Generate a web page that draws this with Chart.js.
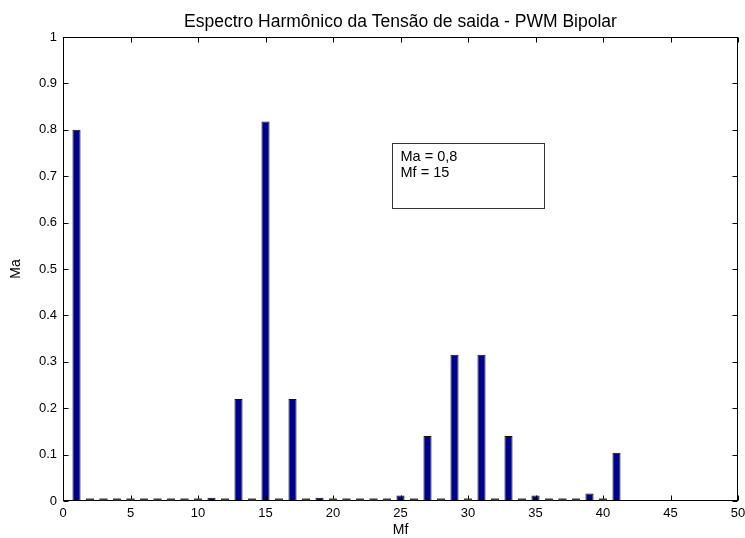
<!DOCTYPE html>
<html>
<head>
<meta charset="utf-8">
<script src="https://cdn.jsdelivr.net/npm/chart.js@4/dist/chart.umd.min.js"></script>
<style>
  html, body { margin: 0; padding: 0; background: #fff; }
  #wrap { width: 745px; height: 538px; }
</style>
</head>
<body>
<div id="wrap"><canvas id="spectrum" width="745" height="538"></canvas></div>
<script>
// ordem dos harmônicos (1..41) e amplitude de cada um
const harmonics = [1, 2, 3, 4, 5, 6, 7, 8, 9, 10, 11, 12, 13, 14, 15, 16, 17, 18, 19, 20,
  21, 22, 23, 24, 25, 26, 27, 28, 29, 30, 31, 32, 33, 34, 35, 36, 37, 38, 39, 40, 41];
const amplitudes = [0.80, 0, 0, 0, 0, 0, 0, 0, 0, 0, 0.007, 0, 0.22, 0, 0.818, 0, 0.22, 0, 0.007, 0,
  0, 0, 0, 0, 0.012, 0, 0.14, 0, 0.315, 0, 0.315, 0, 0.14, 0, 0.012, 0, 0, 0, 0.016, 0, 0.104];
const xTicks = [0, 5, 10, 15, 20, 25, 30, 35, 40, 45, 50];
const yTicks = [0, 0.1, 0.2, 0.3, 0.4, 0.5, 0.6, 0.7, 0.8, 0.9, 1];
const titleText = 'Espectro Harmônico da Tensão de saida - PWM Bipolar';
const noteLines = ['Ma = 0,8', 'Mf = 15'];

const FONT = '"Liberation Sans", Arial, sans-serif';

// título, caixa, ticks para dentro (estilo MATLAB), traços das barras nulas e a caixa de texto
const matlabLook = {
  id: 'matlabLook',
  afterDraw(chart) {
    const ctx = chart.ctx;
    const a = chart.chartArea;
    const xs = chart.scales.x, ys = chart.scales.y;
    const L = Math.round(a.left) + 0.5, R = Math.round(a.right) - 0.5;
    const T = Math.round(a.top) + 0.5, B = Math.round(a.bottom) - 0.5;
    ctx.save();

    // título centrado sobre a área do gráfico
    ctx.fillStyle = '#000';
    ctx.font = '17.5px ' + FONT;
    ctx.textAlign = 'center';
    ctx.textBaseline = 'alphabetic';
    ctx.fillText(titleText, (a.left + a.right) / 2, a.top - 10);

    ctx.strokeStyle = '#000';
    ctx.lineWidth = 1;
    ctx.strokeRect(L, T, R - L, B - T);
    const t = 5;
    ctx.beginPath();
    xTicks.forEach(v => {
      const px = Math.round(xs.getPixelForValue(v)) + 0.5;
      ctx.moveTo(px, B); ctx.lineTo(px, B - t);
      ctx.moveTo(px, T); ctx.lineTo(px, T + t);
    });
    yTicks.forEach(v => {
      const py = Math.round(ys.getPixelForValue(v)) + 0.5;
      ctx.moveTo(L, py); ctx.lineTo(L + t, py);
      ctx.moveTo(R, py); ctx.lineTo(R - t, py);
    });
    ctx.stroke();

    // barras de amplitude zero: só a borda aparece, como traço sobre o eixo
    const meta = chart.getDatasetMeta(0);
    ctx.strokeStyle = '#3c3c3c';
    ctx.lineWidth = 2;
    ctx.beginPath();
    meta.data.forEach((bar, i) => {
      if (amplitudes[i] !== 0) return;
      const p = bar.getProps(['x', 'width'], true);
      ctx.moveTo(p.x - p.width / 2, B - 1);
      ctx.lineTo(p.x + p.width / 2, B - 1);
    });
    ctx.stroke();

    // caixa de texto (coordenadas em unidades do gráfico)
    const bx0 = Math.round(xs.getPixelForValue(24.4)) + 0.5;
    const bx1 = Math.round(xs.getPixelForValue(35.6)) + 0.5;
    const by0 = Math.round(ys.getPixelForValue(0.772)) + 0.5;
    const by1 = Math.round(ys.getPixelForValue(0.631)) + 0.5;
    ctx.fillStyle = '#fff';
    ctx.fillRect(bx0, by0, bx1 - bx0, by1 - by0);
    ctx.strokeStyle = '#333';
    ctx.lineWidth = 1;
    ctx.strokeRect(bx0, by0, bx1 - bx0, by1 - by0);
    ctx.fillStyle = '#000';
    ctx.font = '14.5px ' + FONT;
    ctx.textAlign = 'left';
    ctx.textBaseline = 'middle';
    noteLines.forEach((s, i) => ctx.fillText(s, bx0 + 8, by0 + 13 + i * 16));
    ctx.restore();
  }
};

new Chart(document.getElementById('spectrum').getContext('2d'), {
  type: 'bar',
  data: {
    datasets: [{
      data: harmonics.map((h, i) => ({ x: h, y: amplitudes[i] })),
      backgroundColor: '#00008f',
      borderColor: '#111',
      borderWidth: 1,
      barPercentage: 0.6,
      categoryPercentage: 1
    }]
  },
  options: {
    responsive: false,
    animation: false,
    layout: { padding: { left: 0, right: 7, top: 37, bottom: 0 } },
    plugins: {
      legend: { display: false },
      tooltip: { enabled: false },
      title: { display: false }
    },
    scales: {
      x: {
        type: 'linear',
        min: 0, max: 50,
        offset: false,
        afterBuildTicks: s => { s.ticks = xTicks.map(v => ({ value: v })); },
        afterFit: s => { s.height = 37; s.paddingRight = 0; s.paddingLeft = 0; },
        grid: { display: false, drawTicks: false },
        border: { display: false },
        ticks: { color: '#000', font: { family: FONT, size: 13 }, padding: 5, maxRotation: 0 },
        title: { display: true, text: 'Mf', color: '#000', font: { family: FONT, size: 14 }, padding: { top: 0, bottom: -1 } }
      },
      y: {
        min: 0, max: 1,
        afterBuildTicks: s => { s.ticks = yTicks.map(v => ({ value: v })); },
        afterFit: s => { s.width = 63; },
        grid: { display: false, drawTicks: false },
        border: { display: false },
        ticks: { color: '#000', font: { family: FONT, size: 13 }, padding: 6,
          callback: v => String(+v.toFixed(1)) },
        title: { display: true, text: 'Ma', color: '#000', font: { family: FONT, size: 14 }, padding: { top: 8, bottom: 0 } }
      }
    }
  },
  plugins: [matlabLook]
});
</script>
</body>
</html>
